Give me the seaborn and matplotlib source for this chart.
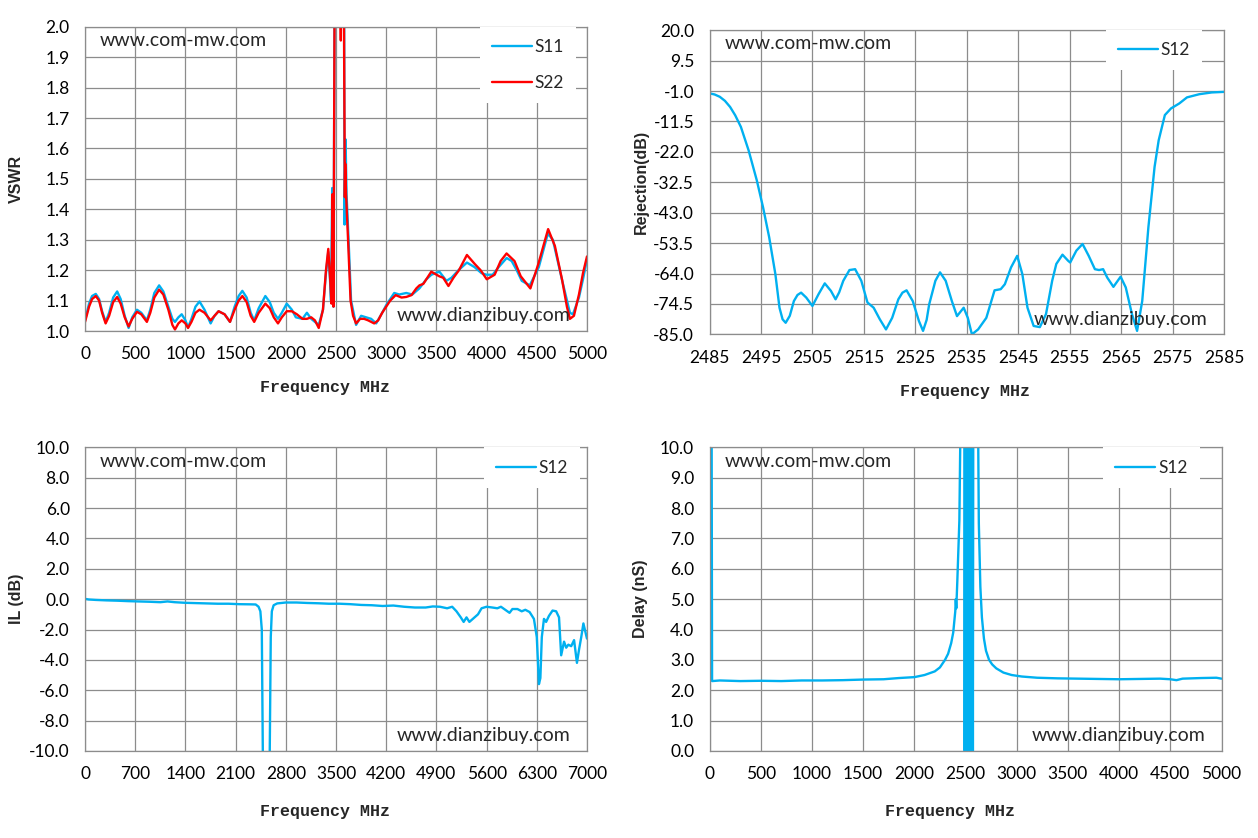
import numpy as np
import matplotlib
matplotlib.use('Agg')
import matplotlib.pyplot as plt
import seaborn as sns

# ---- VSWR (top left) ----
s22_freq = [0, 40, 70, 107, 140, 170, 205, 240, 280, 320, 355, 395, 434, 470, 517, 560, 616,
            650, 690, 738, 780, 830, 870, 896, 930, 963, 1000, 1026, 1060, 1100, 1140, 1190,
            1251, 1290, 1330, 1390, 1444, 1490, 1530, 1567, 1610, 1650, 1685, 1730, 1796, 1840,
            1880, 1922, 1960, 2009, 2060, 2110, 2166, 2210, 2253, 2290, 2328, 2370, 2400, 2423,
            2440, 2455, 2465, 2475, 2488, 2540, 2548, 2552, 2575, 2588, 2592, 2600, 2620, 2645,
            2670, 2700, 2740, 2780, 2820, 2880, 2920, 2960, 3000, 3040, 3094, 3153, 3200, 3252,
            3300, 3331, 3370, 3449, 3528, 3568, 3620, 3670, 3725, 3804, 3883, 3940, 4002, 4080,
            4140, 4199, 4278, 4340, 4436, 4515, 4613, 4680, 4751, 4800, 4830, 4870, 4920, 4960, 5000]
s22_vswr = [1.03, 1.08, 1.105, 1.115, 1.10, 1.06, 1.025, 1.05, 1.095, 1.112, 1.09, 1.045, 1.015,
            1.04, 1.063, 1.055, 1.03, 1.06, 1.11, 1.136, 1.12, 1.07, 1.02, 1.005, 1.025, 1.035,
            1.025, 1.01, 1.03, 1.06, 1.07, 1.06, 1.035, 1.05, 1.065, 1.055, 1.03, 1.07, 1.10,
            1.115, 1.095, 1.05, 1.03, 1.06, 1.09, 1.075, 1.045, 1.025, 1.045, 1.065, 1.065, 1.055,
            1.04, 1.04, 1.045, 1.035, 1.01, 1.07, 1.20, 1.27, 1.18, 1.09, 1.45, 1.08, 2.3, 2.3,
            1.955, 2.3, 2.3, 1.44, 1.55, 1.45, 1.30, 1.10, 1.05, 1.025, 1.04, 1.04, 1.035, 1.025,
            1.035, 1.06, 1.08, 1.10, 1.118, 1.11, 1.112, 1.118, 1.14, 1.15, 1.155, 1.195, 1.18,
            1.175, 1.148, 1.175, 1.20, 1.25, 1.22, 1.20, 1.17, 1.185, 1.23, 1.255, 1.23, 1.18,
            1.14, 1.22, 1.335, 1.28, 1.17, 1.08, 1.04, 1.05, 1.12, 1.19, 1.245]

s11_freq = [0, 40, 70, 107, 140, 170, 205, 240, 280, 320, 355, 395, 434, 470, 517, 560, 616,
            650, 690, 738, 780, 830, 870, 896, 930, 963, 1000, 1026, 1060, 1100, 1140, 1190,
            1251, 1290, 1330, 1390, 1444, 1490, 1530, 1567, 1610, 1650, 1685, 1730, 1796, 1840,
            1880, 1922, 1960, 2009, 2060, 2100, 2166, 2210, 2253, 2290, 2328, 2370, 2400, 2423,
            2440, 2450, 2462, 2475, 2488, 2580, 2585, 2595, 2605, 2625, 2650, 2700, 2750, 2800,
            2850, 2900, 2960, 3000, 3080, 3130, 3200, 3260, 3330, 3400, 3450, 3530, 3600, 3650,
            3720, 3804, 3880, 3950, 4000, 4060, 4120, 4200, 4250, 4300, 4350, 4430, 4520, 4610,
            4660, 4750, 4830, 4860, 4920, 4960, 5000]
s11_vswr = [1.035, 1.09, 1.115, 1.122, 1.105, 1.065, 1.03, 1.06, 1.11, 1.13, 1.105, 1.05, 1.01,
            1.045, 1.07, 1.06, 1.035, 1.07, 1.125, 1.15, 1.13, 1.08, 1.04, 1.03, 1.045, 1.055,
            1.035, 1.012, 1.04, 1.08, 1.097, 1.07, 1.025, 1.05, 1.065, 1.055, 1.03, 1.08, 1.115,
            1.132, 1.11, 1.06, 1.035, 1.075, 1.115, 1.095, 1.06, 1.04, 1.06, 1.09, 1.07, 1.045,
            1.04, 1.06, 1.04, 1.03, 1.02, 1.07, 1.19, 1.26, 1.17, 1.10, 1.47, 1.08, 2.3, 2.3,
            1.35, 1.63, 1.45, 1.30, 1.10, 1.02, 1.05, 1.045, 1.04, 1.025, 1.06, 1.085, 1.125,
            1.12, 1.125, 1.12, 1.14, 1.17, 1.185, 1.195, 1.165, 1.175, 1.20, 1.225, 1.21, 1.19,
            1.185, 1.185, 1.21, 1.24, 1.23, 1.20, 1.165, 1.15, 1.21, 1.32, 1.30, 1.17, 1.06,
            1.055, 1.11, 1.17, 1.235]

# ---- Rejection (top right) ----
rej_freq = [2485, 2486, 2487, 2488, 2489, 2490, 2491.1, 2492.6, 2494.2, 2495.4, 2496.6, 2497.8,
            2498.6, 2499.2, 2499.8, 2500.6,
            2501.4, 2502.1, 2502.8, 2503.8, 2505, 2506.2, 2507.4, 2508.6, 2509.5, 2510.2, 2511,
            2512.2, 2513.3, 2514.5, 2515.7, 2516.9, 2518.1, 2519.3, 2520.5, 2521.7, 2522.5,
            2523.3, 2524.5, 2525.7, 2526.5, 2527.2, 2527.7, 2528.9, 2529.8, 2530.9, 2532.1,
            2533.1, 2534.4, 2535.2, 2536, 2537.2, 2538.8, 2540.4, 2541.6, 2542.4, 2543.6,
            2544.8, 2545.8, 2546.8, 2548, 2549.2, 2550.4, 2551.6, 2552.4, 2553.6, 2554.7,
            2555.1, 2556.3, 2557.5, 2558.7, 2559.9, 2560.7, 2561.5, 2562.3, 2563.5, 2564.9,
            2565.9, 2567.1, 2568.1, 2569.1, 2570.3, 2571.5, 2572.3, 2573.5, 2574.7, 2576.3,
            2577.8, 2580.2, 2582.6, 2585]
rej_db = [-1.8, -2.2, -3.0, -4.4, -6.5, -9.4, -13.4, -21.5, -31.9, -41.1, -51.5, -64.2,
          -75.8, -79.8, -81.0, -78.6,
          -73.5, -71.4, -70.6, -72.3, -75.2, -71.1, -67.4, -70.0, -72.9, -70.5, -66.5,
          -62.8, -62.5, -66.5, -74.0, -75.8, -79.8, -83.3, -79.3, -72.9, -70.6,
          -69.8, -73.5, -80.4, -83.8, -80.0, -74.6, -66.5, -63.6, -66.5, -73.5,
          -78.7, -75.8, -79.3, -85.0, -83.3, -79.3, -69.8, -69.4, -67.7, -61.9,
          -57.9, -64.2, -75.8, -82.1, -82.5, -78.0, -66.5, -60.7, -57.5, -59.6,
          -60.2, -56.1, -53.8, -57.9, -62.5, -62.8, -62.5, -65.4, -68.6, -65.1,
          -68.8, -78.0, -83.8, -73.5, -48.0, -27.2, -18.0, -9.3, -7.0, -5.3,
          -3.2, -2.1, -1.5, -1.3]

# ---- Insertion loss (bottom left) ----
il_freq = [0, 50, 150, 300, 450, 600, 750, 900, 1050, 1150, 1250, 1400, 1550, 1700, 1850, 2000,
           2150, 2300, 2380, 2420, 2445, 2465, 2480, 2575, 2590, 2605, 2630, 2680, 2800, 2950,
           3100, 3250, 3400, 3550, 3700, 3850, 4000, 4150, 4300, 4450, 4600, 4750, 4850, 4950,
           5050, 5120, 5180, 5240, 5280, 5320, 5360, 5420, 5480, 5530, 5600, 5680, 5750, 5800,
           5860, 5920, 5960, 6030, 6090, 6140, 6200, 6260, 6300, 6330, 6350, 6370, 6400, 6430,
           6470, 6520, 6570, 6610, 6640, 6680, 6710, 6740, 6780, 6820, 6860, 6890, 6920, 6950,
           6980, 7000]
il_db = [0.02, -0.02, -0.05, -0.08, -0.10, -0.13, -0.15, -0.17, -0.20, -0.15, -0.20, -0.24,
         -0.26, -0.28, -0.30, -0.30, -0.33, -0.34, -0.35, -0.50, -0.80, -2.0, -10.5, -10.5,
         -2.5, -0.8, -0.4, -0.28, -0.22, -0.22, -0.25, -0.27, -0.30, -0.30, -0.33, -0.38,
         -0.40, -0.45, -0.42, -0.50, -0.55, -0.55, -0.48, -0.50, -0.60, -0.50, -0.80, -1.2,
         -1.5, -1.2, -1.5, -1.25, -1.0, -0.6, -0.5, -0.55, -0.6, -0.5, -0.7, -0.9, -0.65,
         -0.65, -0.8, -0.7, -0.85, -1.3, -2.5, -5.6, -5.2, -2.5, -1.3, -1.5, -1.1, -0.75,
         -0.8, -1.2, -3.7, -2.8, -3.2, -3.0, -3.1, -2.7, -4.2, -3.3, -2.5, -1.6, -2.2, -2.6]

# ---- Group delay (bottom right) ----
dly_freq = [10, 20, 25, 100, 300, 500, 700, 900, 1100, 1300, 1500, 1700, 1850, 2000, 2100, 2200,
            2250, 2300, 2330, 2360, 2380, 2400, 2405, 2410, 2420, 2440, 2455, 2490,
            2492, 2496, 2500, 2504, 2508, 2512, 2516, 2520, 2524, 2528, 2532, 2536, 2540, 2544,
            2548, 2552, 2556, 2560, 2564, 2568, 2572, 2576,
            2620, 2630, 2645, 2660, 2680, 2700, 2730, 2760, 2800, 2870, 2950, 3050, 3200, 3400,
            3600, 3800, 4000, 4200, 4400, 4500, 4560, 4620, 4800, 4950, 5000]
dly_ns = [12, 12, 2.3, 2.32, 2.3, 2.31, 2.3, 2.32, 2.32, 2.33, 2.35, 2.36, 2.40, 2.43, 2.50, 2.62,
          2.75, 3.0, 3.2, 3.55, 3.9, 4.6, 5.0, 4.7, 5.6, 7.6, 12, 12,
          0, 12, 0, 12, 0, 12, 0, 12, 0, 12, 0, 12, 0, 12,
          0, 12, 0, 12, 0, 12, 0, 12,
          12, 7.5, 5.4, 4.4, 3.7, 3.3, 3.0, 2.85, 2.72, 2.58, 2.50, 2.45, 2.41, 2.39,
          2.38, 2.37, 2.36, 2.37, 2.38, 2.36, 2.33, 2.38, 2.40, 2.41, 2.38]

BLUE = '#00B0F0'
RED = '#FF0000'
GRID = '#8c8c8c'

sns.set_theme(style='whitegrid')
plt.rcParams['font.family'] = ['Lato', 'DejaVu Sans']
plt.rcParams['axes.edgecolor'] = GRID
plt.rcParams['grid.color'] = GRID
plt.rcParams['grid.linewidth'] = 0.9

fig = plt.figure(figsize=(12.58, 8.38), dpi=100)


def setup(ax, xlim, xticks, ylim, yticks, yfmt, ylabel, ylab_x, xlab_pos):
    ax.set_xlim(*xlim)
    ax.set_ylim(*ylim)
    ax.set_xticks(xticks)
    ax.set_yticks(yticks)
    ax.set_yticklabels([yfmt.format(v) for v in yticks])
    ax.set_xticklabels([str(v) for v in xticks])
    ax.tick_params(direction='out', length=5, width=0.9, color=GRID, pad=6,
                   labelsize=12.5, labelcolor='black')
    for s in ax.spines.values():
        s.set_color(GRID)
        s.set_linewidth(0.9)
    ax.grid(True, color=GRID, linewidth=0.9)
    ax.set_ylabel(ylabel, fontfamily='Liberation Sans', fontweight='bold', fontsize=11.5)
    ax.yaxis.set_label_coords(ylab_x, 0.5)
    ax.set_xlabel('Frequency MHz', fontfamily='Liberation Mono', fontweight='bold', fontsize=12)
    ax.xaxis.set_label_coords(*xlab_pos)
    ax.text(0.03, 0.955, 'www.com-mw.com', transform=ax.transAxes, ha='left', va='center',
            fontsize=14)
    ax.text(0.968, 0.05, 'www.dianzibuy.com', transform=ax.transAxes, ha='right', va='center',
            fontsize=14)


def add_legend(ax, right):
    leg = ax.legend(loc='upper right', bbox_to_anchor=(right, 1.0), borderaxespad=0,
                    frameon=True, facecolor='white', edgecolor='none', framealpha=1,
                    fontsize=12.5, handlelength=2.3, handletextpad=0.15, labelspacing=1.15,
                    borderpad=0.7, fancybox=False)
    leg.get_frame().set_linewidth(0)


# top left: VSWR
ax1 = fig.add_axes([0.0676, 0.605, 0.399, 0.363])
sns.lineplot(x=s11_freq, y=s11_vswr, ax=ax1, color=BLUE, linewidth=1.7, label='S11',
             estimator=None, sort=False)
sns.lineplot(x=s22_freq, y=s22_vswr, ax=ax1, color=RED, linewidth=1.7, label='S22',
             estimator=None, sort=False)
setup(ax1, (0, 5000), list(range(0, 5001, 500)), (1.0, 2.0),
      [round(1.0 + 0.1 * k, 1) for k in range(11)], '{:.1f}', 'VSWR', -0.122, (0.478, -0.162))
add_legend(ax1, 0.978)

# top right: rejection
ax2 = fig.add_axes([0.564, 0.601, 0.409, 0.363])
sns.lineplot(x=rej_freq, y=rej_db, ax=ax2, color=BLUE, linewidth=1.7, label='S12',
             estimator=None, sort=False)
setup(ax2, (2485, 2585), list(range(2485, 2586, 10)), (-85, 20),
      [round(-85 + 10.5 * k, 1) for k in range(11)], '{:.1f}', 'Rejection(dB)', -0.118,
      (0.496, -0.162))
add_legend(ax2, 0.957)

# bottom left: insertion loss
ax3 = fig.add_axes([0.0676, 0.104, 0.399, 0.362])
sns.lineplot(x=il_freq, y=il_db, ax=ax3, color=BLUE, linewidth=1.7, label='S12',
             estimator=None, sort=False)
setup(ax3, (0, 7000), list(range(0, 7001, 700)), (-10, 10),
      [-10 + 2 * k for k in range(11)], '{:.1f}', 'IL (dB)', -0.122, (0.478, -0.176))
add_legend(ax3, 0.986)

# bottom right: group delay
ax4 = fig.add_axes([0.564, 0.104, 0.407, 0.362])
sns.lineplot(x=dly_freq, y=dly_ns, ax=ax4, color=BLUE, linewidth=1.7, label='S12',
             estimator=None, sort=False)
setup(ax4, (0, 5000), list(range(0, 5001, 500)), (0, 10),
      list(range(0, 11)), '{:.1f}', 'Delay (nS)', -0.12, (0.469, -0.176))
add_legend(ax4, 0.957)

fig.savefig('out.png', dpi=100)
